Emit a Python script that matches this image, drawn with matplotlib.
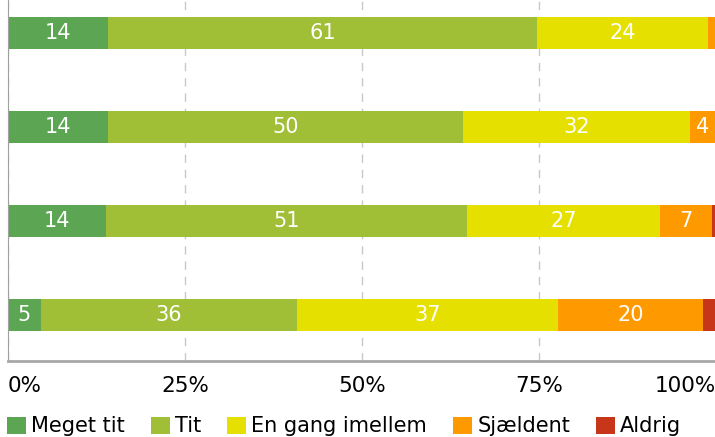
import matplotlib.pyplot as plt
import numpy as np

categories = ['Meget tit', 'Tit', 'En gang imellem', 'Sjældent', 'Aldrig']
colors = ['#5ba553', '#a1be37', '#e6e000', '#ff9900', '#c8361a']

# one list per answer category, rows top to bottom (percent)
meget_tit = [14.1, 14.1, 13.8, 4.6]
tit = [60.6, 50.2, 51.0, 36.2]
en_gang = [24.2, 32.0, 27.3, 36.9]
sjaeldent = [1.1, 3.7, 7.4, 20.4]
aldrig = [0.0, 0.0, 0.5, 1.9]

series = [meget_tit, tit, en_gang, sjaeldent, aldrig]
tick_vals = [0, 25, 50, 75, 100]
tick_labels = ['0%', '25%', '50%', '75%', '100%']

fig = plt.figure(figsize=(7.15, 4.37), dpi=100)
ax = fig.add_axes([8 / 715, 76 / 437, 708 / 715, 374 / 437])

y = np.arange(len(meget_tit))
left = np.zeros(len(y))
for vals, name, col in zip(series, categories, colors):
    vals = np.array(vals, dtype=float)
    ax.barh(y, vals, left=left, height=0.35, color=col, label=name)
    for yi, v, l in zip(y, vals, left):
        if v >= 3:
            ax.text(l + v / 2, yi, f'{v:.0f}', ha='center', va='center',
                    color='white', fontsize=15)
    left += vals

ax.set_xlim(0, 100)
ax.set_ylim(3.49, -0.49)
ax.set_yticks([])
ax.set_xticks(tick_vals)
ax.set_xticklabels(tick_labels, fontsize=15.5)
lbls = ax.get_xticklabels()
lbls[0].set_ha('left')
lbls[-1].set_ha('right')
ax.tick_params(axis='x', length=0, pad=11)
ax.xaxis.grid(True, linestyle=(0, (6, 5)), color='#c8c8c8', linewidth=1)
ax.set_axisbelow(True)
for s in ['top', 'right']:
    ax.spines[s].set_visible(False)
ax.spines['left'].set_color('#a0a0a0')
ax.spines['bottom'].set_color('#a8a8a8')
ax.spines['bottom'].set_linewidth(2)

fig.legend(loc='lower left', bbox_to_anchor=(-0.010, -0.032), ncol=5, frameon=False,
           fontsize=15, handlelength=0.9, handleheight=0.9, handletextpad=0.25,
           columnspacing=1.25, borderaxespad=0.3)

fig.savefig('out.png', dpi=100)
